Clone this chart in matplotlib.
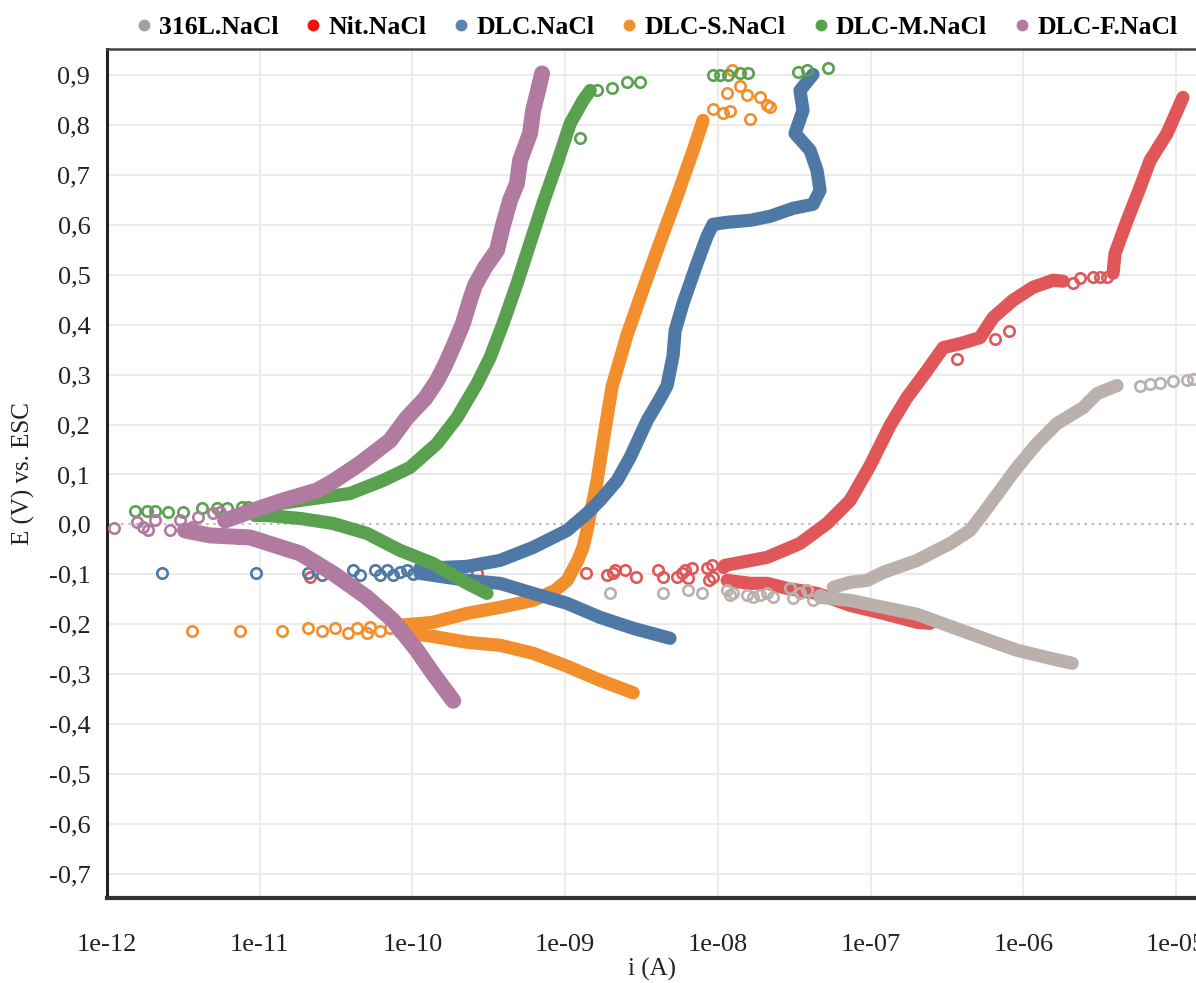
"""Potentiodynamic polarisation curves (Tafel plot) for 316L, nitrided and DLC coatings in NaCl"""

from __future__ import annotations

from dataclasses import dataclass

import matplotlib
import numpy as np

matplotlib.use("Agg")
import matplotlib.pyplot as plt
from matplotlib.font_manager import FontProperties
from matplotlib.lines import Line2D
from matplotlib.ticker import FixedLocator, FuncFormatter, NullLocator

plt.rcParams["font.family"] = ["Liberation Serif", "DejaVu Serif"]

# region data: current i (A) and potential E (V vs. ESC)

# 316L.NaCl
SS_ANODIC_I = [5.7e-8, 7.3e-8, 9.5e-8, 1.21e-7, 2.02e-7, 3.32e-7, 4.48e-7, 5.46e-7, 7.05e-7, 9.1e-7,
               1.23e-6, 1.66e-6, 2.47e-6, 3.04e-6, 4.11e-6]
SS_ANODIC_E = [-0.126, -0.116, -0.112, -0.096, -0.072, -0.038, -0.012, 0.022, 0.068, 0.114,
               0.162, 0.202, 0.234, 0.262, 0.278]
SS_CATHODIC_I = [4.67e-8, 7.34e-8, 1.21e-7, 2.02e-7, 3.32e-7, 5.46e-7, 9.1e-7, 1.5e-6, 2.09e-6]
SS_CATHODIC_E = [-0.146, -0.152, -0.166, -0.180, -0.204, -0.228, -0.252, -0.268, -0.278]
SS_SCATTER_I = [1.97e-9, 4.37e-9, 6.38e-9, 7.89e-9, 1.15e-8, 1.2e-8, 1.26e-8, 1.55e-8, 1.69e-8,
                1.89e-8, 2.1e-8, 2.3e-8, 2.97e-8, 3.11e-8, 3.45e-8, 3.84e-8, 4.2e-8, 4.67e-8,
                5.82e-6, 6.77e-6, 7.87e-6, 9.57e-6, 1.18e-5, 1.3e-5]
SS_SCATTER_E = [-0.138, -0.138, -0.132, -0.138, -0.132, -0.142, -0.138, -0.142, -0.146,
                -0.142, -0.138, -0.146, -0.128, -0.148, -0.138, -0.132, -0.152, -0.142,
                0.278, 0.282, 0.284, 0.288, 0.290, 0.292]

# Nit.NaCl
NIT_ANODIC_I = [1.11e-8, 2.1e-8, 3.45e-8, 5.19e-8, 7.34e-8, 9.93e-8, 1.34e-7, 1.73e-7, 2.34e-7,
                2.99e-7, 3.86e-7, 5.21e-7, 6.34e-7, 8.57e-7, 1.16e-6, 1.57e-6, 1.82e-6]
NIT_ANODIC_E = [-0.082, -0.066, -0.038, 0.002, 0.048, 0.118, 0.198, 0.254, 0.308,
                0.354, 0.362, 0.374, 0.414, 0.449, 0.475, 0.489, 0.487]
NIT_PITTING_I = [3.87e-6, 3.99e-6, 4.79e-6, 5.82e-6, 6.77e-6, 8.74e-6, 1.11e-5]
NIT_PITTING_E = [0.503, 0.543, 0.609, 0.675, 0.729, 0.783, 0.855]
NIT_CATHODIC_I = [1.15e-8, 1.63e-8, 2.1e-8, 2.84e-8, 4.46e-8, 7.34e-8, 1.21e-7, 2.02e-7, 2.45e-7]
NIT_CATHODIC_E = [-0.112, -0.118, -0.118, -0.128, -0.138, -0.162, -0.178, -0.196, -0.198]
NIT_SCATTER_I = [2.13e-11, 2.65e-10, 1.37e-9, 1.88e-9, 2.06e-9, 2.12e-9, 2.47e-9, 2.91e-9,
                 4.06e-9, 4.37e-9, 5.4e-9, 5.83e-9, 6.1e-9, 6.38e-9, 6.78e-9, 8.5e-9, 8.7e-9,
                 9.16e-9, 9.3e-9, 1.08e-8, 3.68e-7, 6.53e-7, 8.07e-7,
                 2.12e-6, 2.35e-6, 2.86e-6, 3.18e-6, 3.54e-6]
NIT_SCATTER_E = [-0.106, -0.098, -0.098, -0.102, -0.098, -0.092, -0.092, -0.106,
                 -0.092, -0.106, -0.106, -0.098, -0.092, -0.108, -0.088, -0.088, -0.112,
                 -0.082, -0.106, -0.086, 0.332, 0.372, 0.388,
                 0.483, 0.493, 0.495, 0.495, 0.495]

# DLC.NaCl
DLC_ANODIC_I = [1.12e-10, 2.28e-10, 3.75e-10, 6.17e-10, 1.03e-9, 1.39e-9, 1.69e-9, 2.19e-9,
                2.66e-9, 3.44e-9, 4.18e-9, 4.65e-9, 5.09e-9, 5.25e-9, 5.92e-9, 7.31e-9, 8.5e-9,
                9.3e-9, 1.15e-8, 1.63e-8, 2.2e-8, 3.11e-8, 4.2e-8, 4.67e-8, 4.46e-8, 4.02e-8,
                3.2e-8, 3.61e-8, 3.45e-8, 4.2e-8]
DLC_ANODIC_E = [-0.088, -0.084, -0.072, -0.046, -0.012, 0.022, 0.048, 0.088,
                0.134, 0.208, 0.252, 0.278, 0.338, 0.388, 0.443, 0.523, 0.577,
                0.601, 0.605, 0.609, 0.617, 0.633, 0.641, 0.669, 0.709, 0.749,
                0.783, 0.829, 0.869, 0.901]
DLC_CATHODIC_I = [1.12e-10, 2.28e-10, 3.75e-10, 6.17e-10, 1.03e-9, 1.69e-9, 2.79e-9, 4.86e-9]
DLC_CATHODIC_E = [-0.098, -0.112, -0.118, -0.138, -0.158, -0.186, -0.208, -0.228]
DLC_SCATTER_I = [2.29e-12, 9.46e-12, 2.07e-11, 2.56e-11, 4.08e-11, 4.54e-11, 5.69e-11, 6.14e-11,
                 6.82e-11, 7.46e-11, 8.3e-11, 9.22e-11, 1.01e-10]
DLC_SCATTER_E = [-0.098, -0.098, -0.098, -0.102, -0.092, -0.102, -0.092, -0.102,
                 -0.092, -0.102, -0.096, -0.092, -0.100]

# DLC-S.NaCl
S_ANODIC_I = [8.3e-11, 1.36e-10, 2.28e-10, 3.75e-10, 6.17e-10, 8.59e-10, 1.03e-9, 1.21e-9, 1.31e-9,
              1.39e-9, 1.46e-9, 1.55e-9, 1.62e-9, 1.82e-9, 2.03e-9, 2.54e-9, 3.24e-9, 4.18e-9,
              5.4e-9, 6.89e-9, 8.0e-9]
S_ANODIC_E = [-0.202, -0.196, -0.178, -0.166, -0.152, -0.132, -0.112, -0.072, -0.046,
              -0.012, 0.022, 0.058, 0.088, 0.188, 0.276, 0.379, 0.471, 0.565,
              0.657, 0.749, 0.809]
S_CATHODIC_I = [8.3e-11, 1.36e-10, 2.28e-10, 3.75e-10, 6.17e-10, 1.03e-9, 1.69e-9, 2.79e-9]
S_CATHODIC_E = [-0.216, -0.224, -0.236, -0.242, -0.258, -0.284, -0.312, -0.337]
S_SCATTER_I = [3.6e-12, 7.43e-12, 1.4e-11, 2.07e-11, 2.56e-11, 3.11e-11, 3.79e-11, 4.34e-11,
               5.04e-11, 5.27e-11, 6.14e-11, 7.13e-11,
               9.3e-9, 1.08e-8, 1.2e-8, 1.15e-8, 1.24e-8, 1.4e-8, 1.55e-8, 1.63e-8, 1.89e-8,
               2.1e-8, 2.2e-8]
S_SCATTER_E = [-0.214, -0.214, -0.214, -0.208, -0.214, -0.208, -0.218, -0.208,
               -0.218, -0.206, -0.214, -0.208,
               0.831, 0.823, 0.827, 0.863, 0.909, 0.877, 0.859, 0.811, 0.855,
               0.839, 0.835]

# DLC-M.NaCl
M_ANODIC_I = [9.31e-12, 1.12e-11, 1.84e-11, 3.9e-11, 6.41e-11, 9.64e-11, 1.45e-10, 1.96e-10,
              2.65e-10, 3.22e-10, 3.92e-10, 4.84e-10, 5.89e-10, 7.16e-10, 8.85e-10, 1.08e-9,
              1.31e-9, 1.46e-9]
M_ANODIC_E = [0.024, 0.038, 0.048, 0.062, 0.088, 0.114, 0.162, 0.214,
              0.282, 0.334, 0.402, 0.482, 0.563, 0.643, 0.723, 0.803,
              0.849, 0.869]
M_CATHODIC_I = [9.31e-12, 1.12e-11, 1.84e-11, 3.02e-11, 5.04e-11, 8.3e-11, 1.36e-10, 2.28e-10,
                3.08e-10]
M_CATHODIC_E = [0.018, 0.018, 0.012, 0.002, -0.018, -0.052, -0.078, -0.118, -0.138]
M_SCATTER_I = [1.52e-12, 1.83e-12, 2.06e-12, 2.51e-12, 3.15e-12, 4.19e-12, 5.25e-12, 6.1e-12,
               7.66e-12, 8.38e-12,
               1.25e-9, 1.62e-9, 2.03e-9, 2.54e-9, 3.1e-9,
               9.3e-9, 1.04e-8, 1.17e-8, 1.4e-8, 1.58e-8, 3.35e-8, 3.84e-8, 5.27e-8]
M_SCATTER_E = [0.026, 0.026, 0.026, 0.024, 0.024, 0.032, 0.032, 0.032,
               0.034, 0.034,
               0.773, 0.869, 0.873, 0.885, 0.885,
               0.899, 0.899, 0.899, 0.903, 0.903, 0.905, 0.909, 0.913]

# DLC-F.NaCl
F_ANODIC_I = [5.93e-12, 9.04e-12, 1.42e-11, 2.37e-11, 3.02e-11, 4.54e-11, 7.13e-11, 9.22e-11,
              1.21e-10, 1.45e-10, 1.63e-10, 1.9e-10, 2.14e-10, 2.38e-10, 2.57e-10, 2.99e-10,
              3.58e-10, 3.92e-10, 4.36e-10, 4.84e-10, 5.07e-10, 5.89e-10, 6.17e-10, 6.65e-10,
              7.06e-10]
F_ANODIC_E = [0.008, 0.028, 0.048, 0.068, 0.086, 0.122, 0.168, 0.214,
              0.252, 0.288, 0.318, 0.364, 0.402, 0.449, 0.479, 0.515,
              0.549, 0.599, 0.649, 0.683, 0.729, 0.783, 0.829, 0.869,
              0.903]
F_CATHODIC_I = [3.24e-12, 4.73e-12, 8.63e-12, 1.26e-11, 1.84e-11, 3.02e-11, 5.04e-11, 7.46e-11,
                1.07e-10, 1.36e-10, 1.85e-10]
F_CATHODIC_E = [-0.012, -0.022, -0.026, -0.042, -0.058, -0.098, -0.146, -0.192,
                -0.252, -0.298, -0.353]
F_SCATTER_I = [1.11e-12, 1.57e-12, 1.72e-12, 1.86e-12, 2.06e-12, 2.59e-12, 3.01e-12, 3.6e-12,
               3.94e-12, 4.95e-12, 5.5e-12, 7.2e-12]
F_SCATTER_E = [-0.008, 0.004, -0.006, -0.012, 0.008, -0.012, 0.008, -0.006,
               0.014, 0.022, 0.024, -0.028]

LABELS = ["316L.NaCl", "Nit.NaCl", "DLC.NaCl", "DLC-S.NaCl", "DLC-M.NaCl", "DLC-F.NaCl"]
COLORS = ["#bab0ac", "#e15759", "#4e79a7", "#f28e2b", "#59a14f", "#b07aa1"]
LEGEND_COLORS = ["#a0a0a8", "#ee1111", "#5b84b1", "#f28e2b", "#59a14f", "#b07aa1"]

X_TICKS = [1e-12, 1e-11, 1e-10, 1e-9, 1e-8, 1e-7, 1e-6, 1e-5]
Y_TICKS = [-0.7, -0.6, -0.5, -0.4, -0.3, -0.2, -0.1, 0.0, 0.1, 0.2, 0.3, 0.4, 0.5, 0.6, 0.7, 0.8, 0.9]

# endregion


@dataclass(frozen=True)
class _Curve:
    """One polarisation curve: dense branches plus isolated points"""

    label: str
    color: str
    branches: list[tuple[list[float], list[float]]]
    scatter: tuple[list[float], list[float]]
    width: float = 9.5


CURVES = [
    _Curve(LABELS[1], COLORS[1],
           [(NIT_ANODIC_I, NIT_ANODIC_E), (NIT_PITTING_I, NIT_PITTING_E), (NIT_CATHODIC_I, NIT_CATHODIC_E)],
           (NIT_SCATTER_I, NIT_SCATTER_E)),
    _Curve(LABELS[0], COLORS[0],
           [(SS_ANODIC_I, SS_ANODIC_E), (SS_CATHODIC_I, SS_CATHODIC_E)],
           (SS_SCATTER_I, SS_SCATTER_E)),
    _Curve(LABELS[3], COLORS[3],
           [(S_ANODIC_I, S_ANODIC_E), (S_CATHODIC_I, S_CATHODIC_E)],
           (S_SCATTER_I, S_SCATTER_E)),
    _Curve(LABELS[2], COLORS[2],
           [(DLC_ANODIC_I, DLC_ANODIC_E), (DLC_CATHODIC_I, DLC_CATHODIC_E)],
           (DLC_SCATTER_I, DLC_SCATTER_E)),
    _Curve(LABELS[4], COLORS[4],
           [(M_ANODIC_I, M_ANODIC_E), (M_CATHODIC_I, M_CATHODIC_E)],
           (M_SCATTER_I, M_SCATTER_E)),
    _Curve(LABELS[5], COLORS[5],
           [(F_ANODIC_I, F_ANODIC_E), (F_CATHODIC_I, F_CATHODIC_E)],
           (F_SCATTER_I, F_SCATTER_E), width=11.5),
]


def _draw_curve(ax, curve: _Curve, zorder: int) -> None:
    """Dense parts of a scan as a fat round-capped line, sparse points as open circles"""

    for current, potential in curve.branches:
        ax.plot(current, potential, color=curve.color, lw=curve.width,
                solid_capstyle="round", solid_joinstyle="round", zorder=zorder)
    ax.plot(curve.scatter[0], curve.scatter[1], ls="none", marker="o", ms=7.5,
            mfc="none", mec=curve.color, mew=1.9, zorder=zorder)


def _style_axes(ax) -> None:
    """Log current axis, comma decimals, light grid and a dotted zero line"""

    ax.set_xscale("log")
    ax.set_xlim(1e-12, 10 ** -4.869)
    ax.set_ylim(-0.748, 0.952)

    ax.xaxis.set_major_locator(FixedLocator(X_TICKS))
    ax.xaxis.set_minor_locator(NullLocator())
    ax.xaxis.set_major_formatter(FuncFormatter(lambda v, _: f"{v:.0e}"))
    ax.yaxis.set_major_locator(FixedLocator(Y_TICKS))
    ax.yaxis.set_major_formatter(FuncFormatter(lambda v, _: f"{round(v, 1) + 0.0:.1f}".replace(".", ",")))

    ax.tick_params(axis="both", length=0, labelsize=19, colors="#222222")
    ax.tick_params(axis="x", pad=26)
    ax.tick_params(axis="y", pad=12)

    ax.set_axisbelow(True)
    ax.grid(True, color="#ebebeb", lw=1.5)
    for value, line in zip(Y_TICKS, ax.get_ygridlines()):
        if value == 0.0:
            line.set_color("#bdbdbd")
            line.set_linestyle((0, (1.2, 2.2)))

    ax.spines["right"].set_visible(False)
    ax.spines["left"].set_linewidth(2.2)
    ax.spines["left"].set_color("#222222")
    ax.spines["bottom"].set_linewidth(3.0)
    ax.spines["bottom"].set_color("#333333")
    ax.spines["top"].set_linewidth(1.8)
    ax.spines["top"].set_color("#444444")

    ax.set_xlabel("i (A)", fontsize=18, color="#222222", labelpad=1)
    ax.set_ylabel("E (V) vs. ESC", fontsize=18, color="#222222", labelpad=10)


def main() -> None:
    figure = plt.figure(figsize=(11.96, 9.83), dpi=100)
    ax = figure.add_axes([107 / 1196, 1 - 898 / 983, 1089 / 1196, 849 / 983])

    for index, curve in enumerate(CURVES):
        _draw_curve(ax, curve, zorder=3 + index)
    _style_axes(ax)

    handles = [
        Line2D([], [], ls="none", marker="o", ms=7.5, mfc=color, mec=color)
        for color in LEGEND_COLORS
    ]
    figure.legend(
        handles,
        LABELS,
        loc="center",
        bbox_to_anchor=(0.549, 0.9725),
        ncol=6,
        frameon=False,
        prop=FontProperties(family="Liberation Serif", weight="bold", size=18.5),
        handlelength=0.6,
        handletextpad=0.3,
        columnspacing=1.05,
        borderaxespad=0,
    )

    figure.savefig("out.png", dpi=100)
    plt.close(figure)


if __name__ == "__main__":
    main()
